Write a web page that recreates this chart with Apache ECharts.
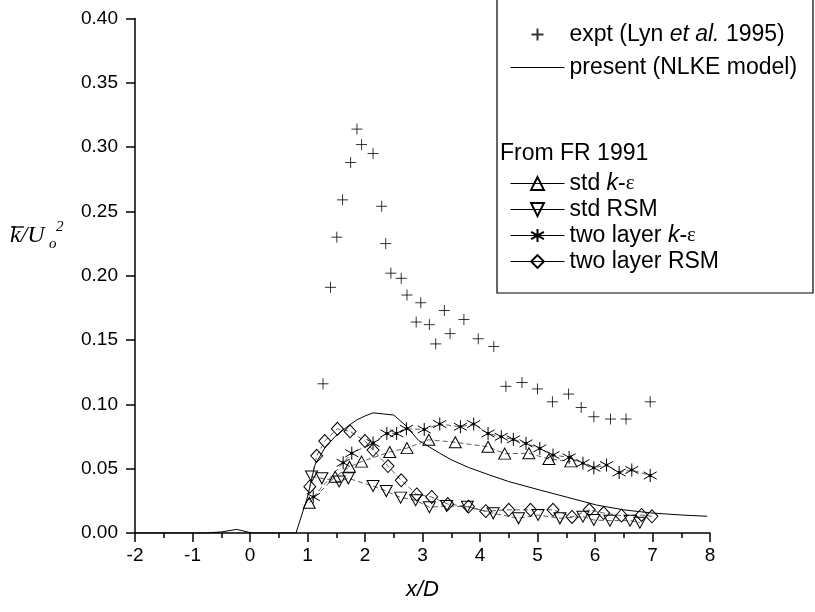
<!DOCTYPE html>
<html>
<head>
<meta charset="utf-8">
<script src="https://cdn.jsdelivr.net/npm/echarts@6/dist/echarts.min.js"></script>
<style>html,body{margin:0;padding:0;background:#fff}#c{width:815px;height:612px}</style>
</head>
<body>
<div id="c"></div>
<script>
// ---- data ----
const exptX = [1.27,1.40,1.51,1.61,1.75,1.86,1.94,2.14,2.29,2.36,2.45,2.63,2.73,2.89,2.97,3.12,3.23,3.38,3.48,3.72,3.97,4.24,4.45,4.73,5.00,5.26,5.54,5.76,5.98,6.27,6.54,6.96];
const exptY = [0.116,0.191,0.230,0.259,0.288,0.314,0.302,0.295,0.254,0.225,0.202,0.198,0.185,0.164,0.179,0.162,0.147,0.173,0.155,0.166,0.151,0.145,0.114,0.117,0.112,0.102,0.108,0.0976,0.0904,0.0886,0.0886,0.102];

const nlkeX = [-2,-0.8,-0.5,-0.23,0.03,0.8,1.0,1.13,1.3,1.48,1.7,1.86,2.0,2.14,2.5,2.72,2.93,3.3,3.51,3.8,4.17,4.5,5.04,5.5,6.03,6.5,7.0,7.5,7.95];
const nlkeY = [0,0,0.0008,0.0028,0,0,0.028,0.053,0.066,0.075,0.083,0.088,0.091,0.0934,0.0917,0.083,0.072,0.062,0.0567,0.051,0.045,0.040,0.0334,0.028,0.0217,0.018,0.0155,0.014,0.013];

const stdKeX = [1.03,1.48,1.73,1.94,2.43,2.73,3.11,3.57,4.14,4.43,4.85,5.20,5.58];
const stdKeY = [0.0235,0.0437,0.0515,0.0555,0.063,0.066,0.0725,0.0705,0.067,0.0617,0.062,0.0575,0.0557];

const stdRsmX = [1.07,1.25,1.55,1.71,2.14,2.37,2.62,2.88,3.12,3.42,3.78,4.23,4.67,5.01,5.39,5.79,5.98,6.26,6.61,6.78];
const stdRsmY = [0.044,0.0425,0.040,0.0425,0.0365,0.0326,0.0275,0.0255,0.020,0.021,0.0204,0.0153,0.0114,0.014,0.0114,0.0127,0.0101,0.0096,0.0096,0.008];

const twoKeX = [1.10,1.62,1.77,2.14,2.38,2.55,2.72,3.03,3.30,3.66,3.89,4.14,4.37,4.58,4.80,5.04,5.27,5.55,5.79,5.98,6.20,6.42,6.64,6.96];
const twoKeY = [0.028,0.0546,0.062,0.070,0.0774,0.0774,0.081,0.0805,0.0847,0.0826,0.0847,0.0774,0.0748,0.0728,0.0697,0.0658,0.0606,0.0588,0.0543,0.0507,0.0528,0.047,0.049,0.0447];

const twoRsmX = [1.04,1.16,1.30,1.52,1.74,2.00,2.14,2.40,2.63,2.90,3.16,3.44,3.80,4.10,4.50,4.88,5.27,5.60,5.90,6.15,6.46,6.81,6.99];
const twoRsmY = [0.036,0.060,0.0715,0.081,0.079,0.0715,0.0645,0.052,0.041,0.030,0.028,0.0225,0.0205,0.017,0.018,0.018,0.018,0.0125,0.018,0.0155,0.0135,0.014,0.013];

const xMin = -2, xMax = 8, xStep = 1;
const yMin = 0, yMax = 0.4, yStep = 0.05;

const names = {
  expt: 'expt (Lyn et al. 1995)',
  nlke: 'present (NLKE model)',
  stdKe: 'std k-ε',
  stdRsm: 'std RSM',
  twoKe: 'two layer k-ε',
  twoRsm: 'two layer RSM'
};
const richNames = {};
richNames[names.expt] = '{n|expt (Lyn }{i|et al.}{n| 1995)}';
richNames[names.nlke] = '{n|present (NLKE model)}';
richNames[names.stdKe] = '{n|std }{i|k}{n|-}{e|ε}';
richNames[names.stdRsm] = '{n|std RSM}';
richNames[names.twoKe] = '{n|two layer }{i|k}{n|-}{e|ε}';
richNames[names.twoRsm] = '{n|two layer RSM}';

function pairs(xs, ys){ return xs.map((x,i)=>[x, ys[i]]); }

const FONT = 'Liberation Sans, Arial, sans-serif';
const SERIF = 'Liberation Serif, Times New Roman, serif';

const PLUS = 'path://M0,5L10,5M5,0L5,10';
const UP = 'path://M5,0L10,9L0,9Z';
const DOWN = 'path://M0,0L10,0L5,9Z';
const STAR = 'path://M5,0L5,10M0.8,2.2L9.2,7.8M9.2,2.2L0.8,7.8M4.3,4.3L5.7,4.3L5.7,5.7L4.3,5.7Z';

const hollow = {color:'rgba(0,0,0,0)', borderColor:'#000', borderWidth:1};
const dashLine = {color:'#333', width:0.8, type:[5,3]};

const LFS = 23;
const rich = {
  n: {fontFamily: FONT, fontSize: LFS, lineHeight: 22, color:'#000'},
  i: {fontFamily: FONT, fontSize: LFS, lineHeight: 22, fontStyle:'italic', color:'#000'},
  e: {fontFamily: SERIF, fontSize: 21, lineHeight: 22, color:'#000'}
};

const chart = echarts.init(document.getElementById('c'), null, {renderer:'canvas'});
chart.setOption({
  animation: false,
  backgroundColor: '#fff',
  grid: {left: 135, right: 105, top: 18.5, bottom: 79, containLabel: false},
  xAxis: {
    type: 'value', min: xMin, max: xMax, interval: xStep,
    name: 'x/D', nameLocation: 'middle', nameGap: 46,
    nameTextStyle: {fontFamily: FONT, fontSize: 22, fontStyle: 'italic', color:'#000'},
    axisLine: {show: true, onZero: false, lineStyle: {color:'#000', width: 1.5}},
    axisTick: {show: true, inside: false, length: 9, lineStyle: {color:'#000', width: 1.5}},
    minorTick: {show: true, splitNumber: 2, length: 5, lineStyle: {color:'#000', width: 1.5}},
    axisLabel: {fontFamily: FONT, fontSize: 19, color:'#000', margin: 13},
    splitLine: {show: false}
  },
  yAxis: {
    type: 'value', min: yMin, max: yMax, interval: yStep,
    axisLine: {show: true, onZero: false, lineStyle: {color:'#000', width: 1.5}},
    axisTick: {show: true, inside: false, length: 9, lineStyle: {color:'#000', width: 1.5}},
    minorTick: {show: false},
    axisLabel: {fontFamily: FONT, fontSize: 19, color:'#000', margin: 17, formatter: v => v.toFixed(2)},
    splitLine: {show: false}
  },
  legend: [
    {
      orient: 'vertical', left: 505, top: 18, itemWidth: 54, itemHeight: 12, itemGap: 10,
      data: [names.expt, {name: names.nlke, itemStyle: {opacity: 0}}],
      formatter: n => richNames[n],
      textStyle: {rich: rich, fontFamily: FONT, fontSize: LFS, lineHeight: 22},
      lineStyle: {color:'#000', width: 1, type: 'solid'},
      selectedMode: false
    },
    {
      orient: 'vertical', left: 505, top: 167, itemWidth: 54, itemHeight: 16, itemGap: 3,
      data: [names.stdKe, names.stdRsm, names.twoKe, names.twoRsm],
      formatter: n => richNames[n],
      textStyle: {rich: rich, fontFamily: FONT, fontSize: LFS, lineHeight: 22},
      lineStyle: {color:'#000', width: 1, type: 'solid'},
      selectedMode: false
    }
  ],
  graphic: [
    {type:'rect', shape:{x:497, y:-2, width:316, height:295}, style:{fill:'none', stroke:'#000', lineWidth:1.2}, silent:true},
    {type:'text', left: 500, top: 142, style:{text:'From FR 1991', font:'23px Liberation Sans', fill:'#000'}},
    {type:'text', left: 10, top: 224, style:{text:'k/U', font:'italic 24px Liberation Serif', fill:'#000'}},
    {type:'text', left: 49, top: 237, style:{text:'o', font:'italic 15px Liberation Serif', fill:'#000'}},
    {type:'text', left: 56, top: 220, style:{text:'2', font:'italic 15px Liberation Serif', fill:'#000'}},
    {type:'line', shape:{x1:11, y1:227, x2:24, y2:227}, style:{stroke:'#000', lineWidth:1.3}}
  ],
  series: [
    {
      name: names.nlke, type: 'line', data: pairs(nlkeX, nlkeY),
      symbol: 'none', smooth: false, lineStyle: {color:'#000', width: 1}, itemStyle:{color:'#000'}, z: 3
    },
    {
      name: names.stdKe, type: 'line', data: pairs(stdKeX, stdKeY),
      symbol: UP, symbolSize: [12, 11], showAllSymbol: true,
      itemStyle: hollow, lineStyle: dashLine, z: 4
    },
    {
      name: names.stdRsm, type: 'line', data: pairs(stdRsmX, stdRsmY),
      symbol: DOWN, symbolSize: [12, 11], showAllSymbol: true,
      itemStyle: hollow, lineStyle: dashLine, z: 4
    },
    {
      name: names.twoKe, type: 'line', data: pairs(twoKeX, twoKeY),
      symbol: STAR, symbolSize: 13, showAllSymbol: true,
      itemStyle: {color:'#000', borderColor:'#000', borderWidth:1}, lineStyle: dashLine, z: 4
    },
    {
      name: names.twoRsm, type: 'line', data: pairs(twoRsmX, twoRsmY),
      symbol: 'diamond', symbolSize: [12, 13], showAllSymbol: true,
      itemStyle: hollow, lineStyle: dashLine, z: 4
    },
    {
      name: names.expt, type: 'scatter', data: pairs(exptX, exptY),
      symbol: PLUS, symbolSize: 11,
      itemStyle: {color:'rgba(0,0,0,0)', borderColor:'#000', borderWidth:1}, z: 5
    }
  ]
});
</script>
</body>
</html>
